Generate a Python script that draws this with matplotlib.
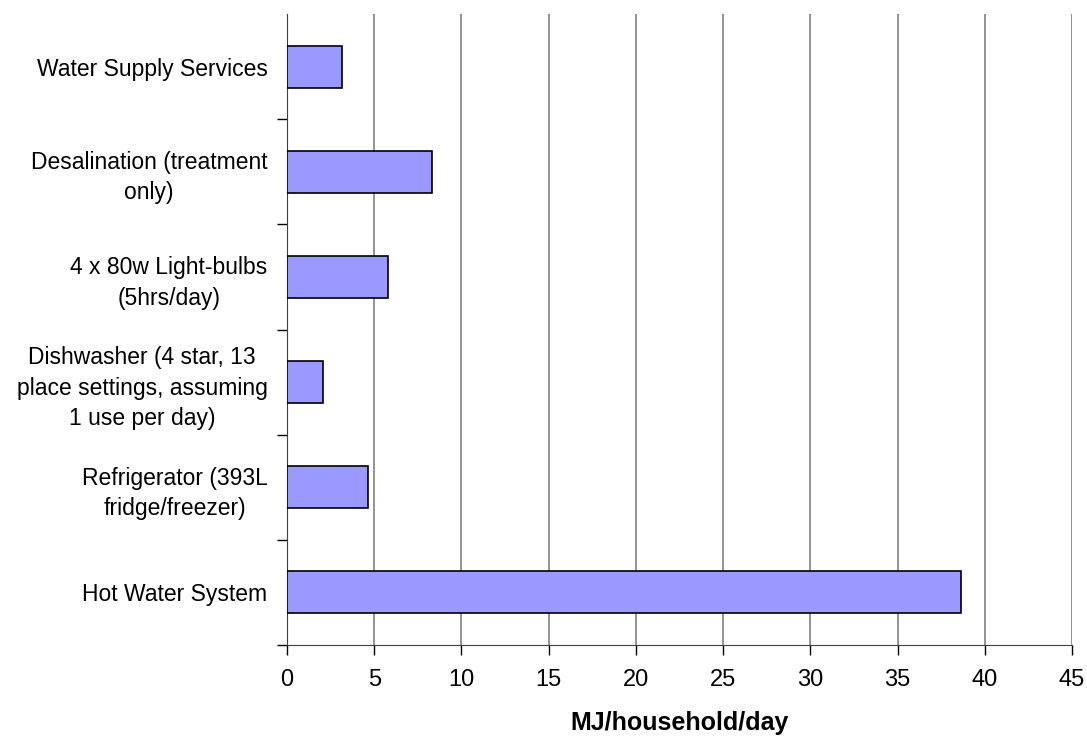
import numpy as np
import matplotlib
matplotlib.use("Agg")
import matplotlib.pyplot as plt

plt.rcParams['font.family'] = ['Liberation Sans', 'DejaVu Sans']

categories = [
    "Water Supply Services",
    "Desalination (treatment\nonly)",
    "4 x 80w Light-bulbs\n(5hrs/day)",
    "Dishwasher (4 star, 13\nplace settings, assuming\n1 use per day)",
    "Refrigerator (393L\nfridge/freezer)",
    "Hot Water System",
]
values = [3.17, 8.29, 5.81, 2.08, 4.63, 38.64]
x_ticks = list(range(0, 50, 5))

fig = plt.figure(figsize=(10.87, 7.36), dpi=100)
ax = fig.add_axes([287 / 1087, 1 - 645 / 736, (1072 - 287) / 1087, (645 - 14) / 736])

pos = np.arange(len(categories))
ax.barh(pos, values, height=0.4, color="#9999FF", edgecolor="black", linewidth=1.2, zorder=3)

ax.set_xlim(0, 45)
ax.set_ylim(len(categories) - 0.5, -0.5)
ax.set_xticks(x_ticks)
ax.set_xticklabels([str(t) for t in x_ticks], fontsize=17)
ax.set_yticks(pos)
ax.set_yticklabels(categories, fontsize=16.5, multialignment="center", linespacing=1.4)
ax.set_yticks(np.arange(0.5, len(categories)), minor=True)
ax.tick_params(axis="y", which="major", length=0, pad=14)
ax.tick_params(axis="y", which="minor", length=7, width=1, direction="out", color="black")
ax.tick_params(axis="x", length=7, width=1, direction="out", pad=10)

ax.grid(axis="x", color="#808080", linewidth=1.2, zorder=0)
for s in ["top", "right"]:
    ax.spines[s].set_visible(False)
ax.spines["left"].set_color("#404040")
ax.spines["bottom"].set_color("#404040")

ax.set_xlabel("MJ/household/day", fontsize=18, fontweight="bold", labelpad=15)

fig.savefig("out.png", dpi=100)
